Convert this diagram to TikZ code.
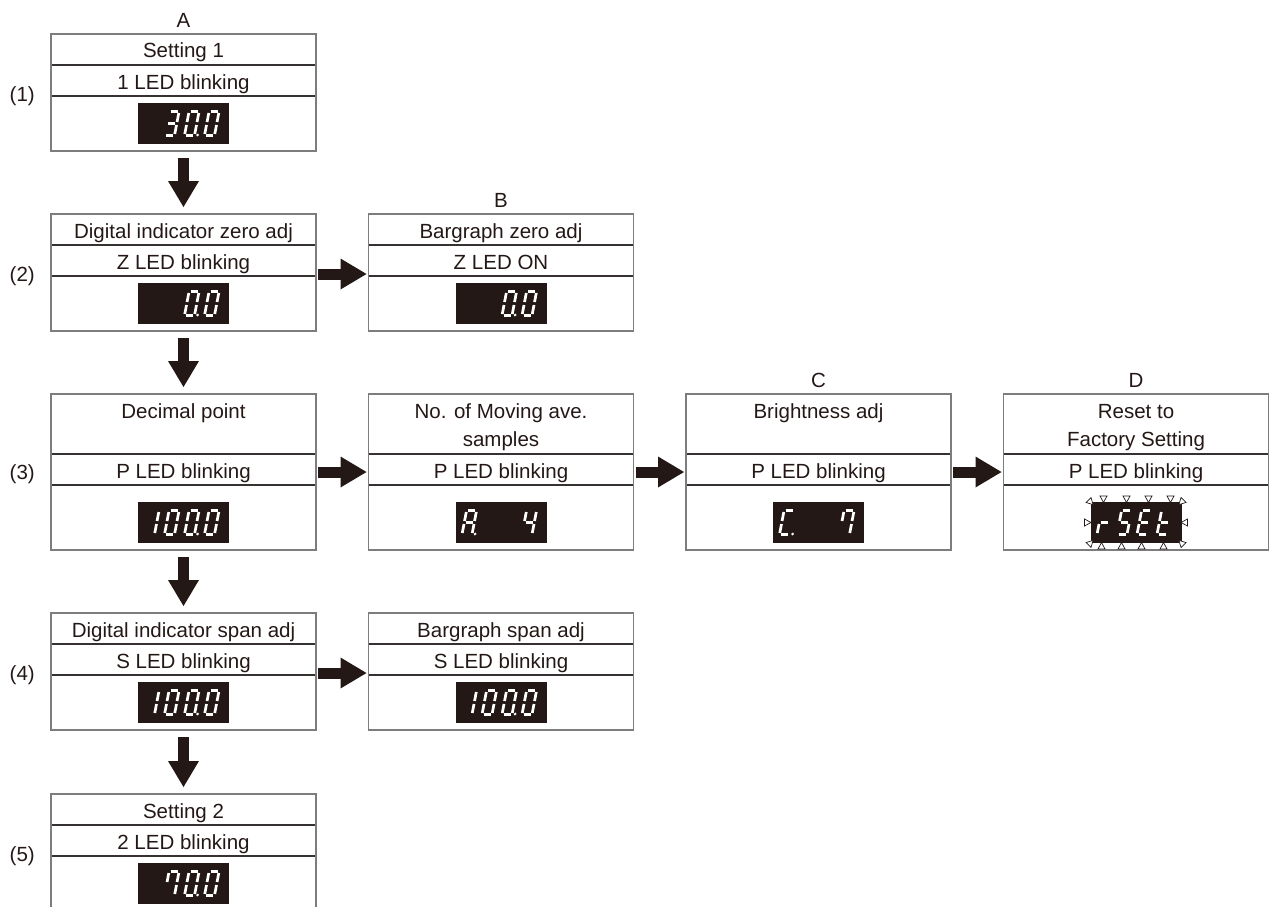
\documentclass[tikz,border=0pt]{standalone}
\usepackage{fontspec}
\setmainfont{Liberation Sans}
\usepackage{xcolor}
\usepackage{tikz}
\usetikzlibrary{arrows.meta, positioning}

\definecolor{inkc}{RGB}{35,24,21}
\definecolor{framec}{RGB}{125,125,125}
\definecolor{sepc}{RGB}{55,50,50}

% one segment of a seven-segment digit (a-g, p = decimal point)
\newcommand{\ledseg}[1]{%
  \if#1a\draw[segline] (1.5,-24) -- (8.5,-24);\fi
  \if#1b\draw[segline] (10,-22.5) -- (10,-13.5);\fi
  \if#1c\draw[segline] (10,-10.5) -- (10,-1.5);\fi
  \if#1d\draw[segline] (1.5,0) -- (8.5,0);\fi
  \if#1e\draw[segline] (0,-10.5) -- (0,-1.5);\fi
  \if#1f\draw[segline] (0,-22.5) -- (0,-13.5);\fi
  \if#1g\draw[segline] (1.5,-12) -- (8.5,-12);\fi
  \if#1p\fill[white] (13,-0.5) circle (1.5);\fi}
% digit in cell #2 of display #1
\newcommand{\leddigit}[3]{%
  \begin{scope}[shift={(#1.south west)}, shift={({6.5+20*(#2-1)},-8.5)}, xslant=0.19]
    \foreach \s in {#3} {\ledseg{\s}}
  \end{scope}}
% small blink marker
\newcommand{\blinkmark}[3]{%
  \draw[blinkmk, shift={(#1)}, shift={(#2)}, rotate=#3] (-3.5,0) -- (3.5,0) -- (0,6.5) -- cycle;}

\begin{document}
\begin{tikzpicture}[
    x=1pt, y=-1pt,
    font=\fontsize{20.5}{28.4}\selectfont, text=inkc,
    row/.style={draw=sepc, line width=1.1pt, minimum width=265pt, minimum height=#1,
                inner sep=0pt, outer sep=0pt, text height=24pt, text depth=7pt},
    row/.default=31pt,
    tall/.style={row=60pt, text depth=36pt},
    frame/.style={draw=framec, line width=1.3pt},
    disp/.style={fill=inkc, minimum width=91pt, minimum height=41pt, inner sep=0pt, outer sep=0pt},
    segline/.style={white, line width=2.7pt},
    blinkmk/.style={fill=white, draw=inkc, line width=0.7pt},
    blk/.style={draw=inkc, line width=11pt, -{Triangle[length=26pt, width=31pt, line width=0pt]}},
    colhead/.style={inner sep=0pt},
    steplbl/.style={inner sep=0pt}
]
\useasboundingbox (0,0) rectangle (1269,907);

% (1) Setting 1
\node[row, anchor=north west] (t1) at (51,34) {Setting 1};
\node[row, below=0pt of t1] (l1) {1 LED blinking};
\node[row=55pt, below=0pt of l1] (r1) {};
\draw[frame] (t1.north west) rectangle (r1.south east);
\node[disp, above=7pt of r1.south] (d1) {};
\leddigit{d1}{2}{a,b,c,d,g}
\leddigit{d1}{3}{a,b,c,d,e,f,p}
\leddigit{d1}{4}{a,b,c,d,e,f}
\node[colhead, above=6.5pt of t1] {A};
\node[steplbl, left=16pt of l1.south west] {(1)};

% (2) zero adj
\node[row, anchor=north west] (t2) at (51,214) {Digital indicator zero adj};
\node[row, below=0pt of t2] (l2) {Z LED blinking};
\node[row=55pt, below=0pt of l2] (r2) {};
\draw[frame] (t2.north west) rectangle (r2.south east);
\node[disp, above=7pt of r2.south] (d2) {};
\leddigit{d2}{3}{a,b,c,d,e,f,p}
\leddigit{d2}{4}{a,b,c,d,e,f}
\node[steplbl, left=16pt of l2.south west] {(2)};

\node[row, anchor=north west] (tb2) at (368.5,214) {Bargraph zero adj};
\node[row, below=0pt of tb2] (lb2) {Z LED ON};
\node[row=55pt, below=0pt of lb2] (rb2) {};
\draw[frame] (tb2.north west) rectangle (rb2.south east);
\node[disp, above=7pt of rb2.south] (db2) {};
\leddigit{db2}{3}{a,b,c,d,e,f,p}
\leddigit{db2}{4}{a,b,c,d,e,f}
\node[colhead, above=6.5pt of tb2] {B};

% (3) decimal point, moving ave., brightness, reset
\node[row, tall, anchor=north west] (t3) at (51,394) {Decimal point};
\node[row, below=0pt of t3] (l3) {P LED blinking};
\node[row=65pt, below=0pt of l3] (r3) {};
\draw[frame] (t3.north west) rectangle (r3.south east);
\node[disp, above=7pt of r3.south] (d3) {};
\leddigit{d3}{1}{b,c}
\leddigit{d3}{2}{a,b,c,d,e,f}
\leddigit{d3}{3}{a,b,c,d,e,f,p}
\leddigit{d3}{4}{a,b,c,d,e,f}
\node[steplbl, left=16pt of l3.west, yshift=-5pt] {(3)};

\node[row, tall, anchor=north west] (tb3) at (368.5,394)
  {\parbox[t]{250pt}{\centering No. of Moving ave.\\samples}};
\node[row, below=0pt of tb3] (lb3) {P LED blinking};
\node[row=65pt, below=0pt of lb3] (rb3) {};
\draw[frame] (tb3.north west) rectangle (rb3.south east);
\node[disp, above=7pt of rb3.south] (db3) {};
\leddigit{db3}{1}{a,b,c,e,f,g,p}
\leddigit{db3}{4}{b,c,f,g}

\node[row, tall, anchor=north west] (tc3) at (686,394) {Brightness adj};
\node[row, below=0pt of tc3] (lc3) {P LED blinking};
\node[row=65pt, below=0pt of lc3] (rc3) {};
\draw[frame] (tc3.north west) rectangle (rc3.south east);
\node[disp, above=7pt of rc3.south] (dc3) {};
\leddigit{dc3}{1}{a,d,e,f,p}
\leddigit{dc3}{4}{a,b,c,f}
\node[colhead, above=6.5pt of tc3] {C};

\node[row, tall, anchor=north west] (td3) at (1003.5,394)
  {\parbox[t]{250pt}{\centering Reset to\\Factory Setting}};
\node[row, below=0pt of td3] (ld3) {P LED blinking};
\node[row=65pt, below=0pt of ld3] (rd3) {};
\draw[frame] (td3.north west) rectangle (rd3.south east);
\node[disp, above=7pt of rd3.south] (dd3) {};
\leddigit{dd3}{1}{e,g}
\leddigit{dd3}{2}{a,f,g,c,d}
\leddigit{dd3}{3}{a,f,g,e,d}
\leddigit{dd3}{4}{f,g,e,d}
\foreach \x in {13,36,58,80} {\blinkmark{dd3.north west}{\x,-6}{0}}
\foreach \x in {11,31,51,73} {\blinkmark{dd3.south west}{\x,6}{180}}
\blinkmark{dd3.west}{-6,0}{90}
\blinkmark{dd3.east}{6,0}{-90}
\blinkmark{dd3.north west}{-2,-2}{45}
\blinkmark{dd3.north east}{2,-2}{-45}
\blinkmark{dd3.south west}{-2,2}{135}
\blinkmark{dd3.south east}{2,2}{-135}
\node[colhead, above=6.5pt of td3] {D};

% (4) span adj
\node[row, anchor=north west] (t4) at (51,613) {Digital indicator span adj};
\node[row, below=0pt of t4] (l4) {S LED blinking};
\node[row=55pt, below=0pt of l4] (r4) {};
\draw[frame] (t4.north west) rectangle (r4.south east);
\node[disp, above=7pt of r4.south] (d4) {};
\leddigit{d4}{1}{b,c}
\leddigit{d4}{2}{a,b,c,d,e,f}
\leddigit{d4}{3}{a,b,c,d,e,f,p}
\leddigit{d4}{4}{a,b,c,d,e,f}
\node[steplbl, left=16pt of l4.south west] {(4)};

\node[row, anchor=north west] (tb4) at (368.5,613) {Bargraph span adj};
\node[row, below=0pt of tb4] (lb4) {S LED blinking};
\node[row=55pt, below=0pt of lb4] (rb4) {};
\draw[frame] (tb4.north west) rectangle (rb4.south east);
\node[disp, above=7pt of rb4.south] (db4) {};
\leddigit{db4}{1}{b,c}
\leddigit{db4}{2}{a,b,c,d,e,f}
\leddigit{db4}{3}{a,b,c,d,e,f,p}
\leddigit{db4}{4}{a,b,c,d,e,f}

% (5) Setting 2
\node[row, anchor=north west] (t5) at (51,794) {Setting 2};
\node[row, below=0pt of t5] (l5) {2 LED blinking};
\node[row=55pt, below=0pt of l5] (r5) {};
\draw[frame] (t5.north west) rectangle (r5.south east);
\node[disp, above=7pt of r5.south] (d5) {};
\leddigit{d5}{2}{a,b,c,f}
\leddigit{d5}{3}{a,b,c,d,e,f,p}
\leddigit{d5}{4}{a,b,c,d,e,f}
\node[steplbl, left=16pt of l5.south west] {(5)};

% Arrows down
\draw[blk, shorten <=7pt, shorten >=7pt] (r1.south) -- (t2.north);
\draw[blk, shorten <=7pt, shorten >=7pt] (r2.south) -- (t3.north);
\draw[blk, shorten <=7pt, shorten >=7pt] (r3.south) -- (t4.north);
\draw[blk, shorten <=7pt, shorten >=7pt] (r4.south) -- (t5.north);

% Arrows right
\draw[blk, shorten <=2pt, shorten >=2pt] ([yshift=2pt]l2.south east) -- ([yshift=2pt]lb2.south west);
\draw[blk, shorten <=2pt, shorten >=2pt] ([yshift=-2.5pt]l3.east) -- ([yshift=-2.5pt]lb3.west);
\draw[blk, shorten <=2pt, shorten >=2pt] ([yshift=-2.5pt]lb3.east) -- ([yshift=-2.5pt]lc3.west);
\draw[blk, shorten <=2pt, shorten >=2pt] ([yshift=-2.5pt]lc3.east) -- ([yshift=-2.5pt]ld3.west);
\draw[blk, shorten <=2pt, shorten >=2pt] ([yshift=2pt]l4.south east) -- ([yshift=2pt]lb4.south west);

\end{tikzpicture}
\end{document}
